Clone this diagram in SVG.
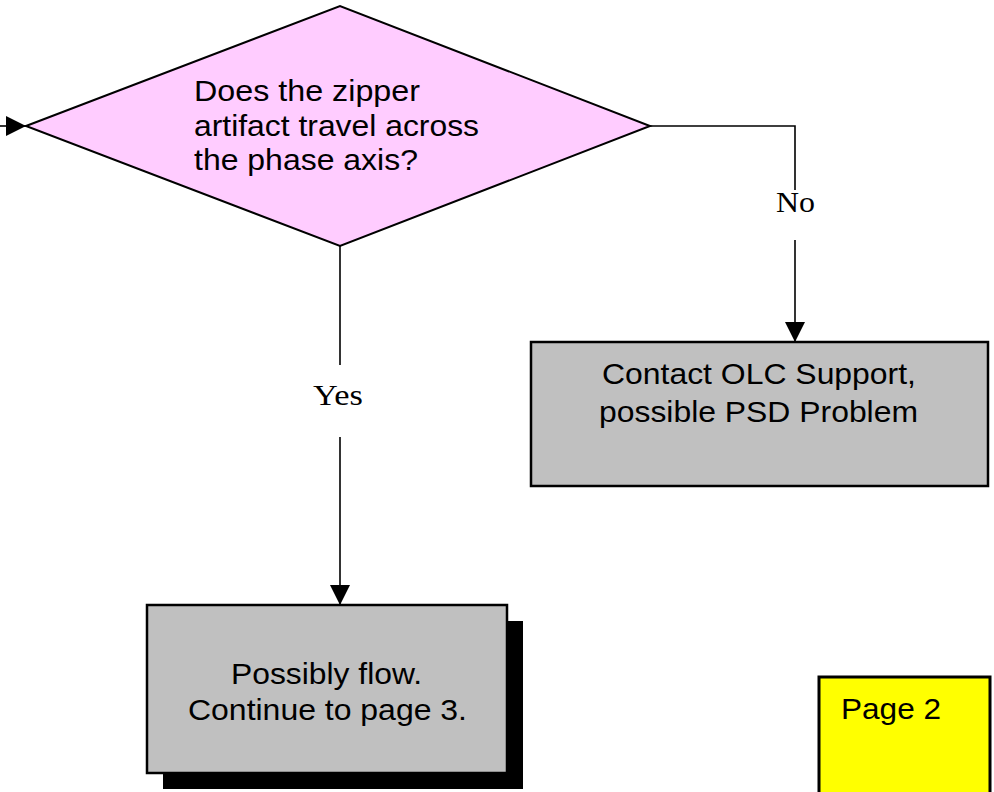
<svg xmlns="http://www.w3.org/2000/svg" width="994" height="792" viewBox="0 0 994 792">
  <defs>
    <marker id="arrow" markerWidth="20" markerHeight="20" refX="20" refY="10" orient="auto" markerUnits="userSpaceOnUse">
      <path d="M0,0 L20,10 L0,20 Z" fill="#000"/>
    </marker>
  </defs>
  <style>
    .box { fill: #c0c0c0; stroke: #000; stroke-width: 2.5; }
    .lbl { font-family: "Liberation Sans", Arial, sans-serif; font-size: 29px; fill: #000; }
    .edge { font-family: "Liberation Serif", "Times New Roman", serif; font-size: 30px; fill: #000; }
    .wire { fill: none; stroke: #000; stroke-width: 1.6; }
  </style>
  <rect width="994" height="792" fill="#fff"/>

  <g id="connectors">
    <line class="wire" x1="0" y1="126" x2="26" y2="126" marker-end="url(#arrow)"/>
    <polyline class="wire" points="650,126 795,126 795,190"/>
    <line class="wire" x1="795" y1="240" x2="795" y2="342" marker-end="url(#arrow)"/>
    <text class="edge" x="776" y="212" textLength="39" lengthAdjust="spacingAndGlyphs">No</text>
    <line class="wire" x1="340" y1="246" x2="340" y2="365"/>
    <line class="wire" x1="340" y1="437" x2="340" y2="605" marker-end="url(#arrow)"/>
    <text class="edge" x="313" y="405" textLength="50" lengthAdjust="spacingAndGlyphs">Yes</text>
  </g>

  <g id="decision">
    <polygon points="26,126 340,6 650,126 340,246" fill="#ffccff" stroke="#000" stroke-width="2"/>
    <text class="lbl" x="194" y="101" textLength="226" lengthAdjust="spacingAndGlyphs">Does the zipper</text>
    <text class="lbl" x="194" y="136" textLength="285" lengthAdjust="spacingAndGlyphs">artifact travel across</text>
    <text class="lbl" x="194" y="170" textLength="224" lengthAdjust="spacingAndGlyphs">the phase axis?</text>
  </g>

  <g id="contact-support">
    <rect class="box" x="531" y="342" width="457" height="144"/>
    <text class="lbl" x="602" y="384" textLength="314" lengthAdjust="spacingAndGlyphs">Contact OLC Support,</text>
    <text class="lbl" x="599" y="422" textLength="319" lengthAdjust="spacingAndGlyphs">possible PSD Problem</text>
  </g>

  <g id="possibly-flow">
    <rect x="163" y="621" width="360" height="168" fill="#000"/>
    <rect class="box" x="147" y="605" width="360" height="168"/>
    <text class="lbl" x="231" y="684" textLength="191" lengthAdjust="spacingAndGlyphs">Possibly flow.</text>
    <text class="lbl" x="188" y="720" textLength="279" lengthAdjust="spacingAndGlyphs">Continue to page 3.</text>
  </g>

  <g id="page-label">
    <rect x="819" y="677" width="171" height="125" fill="#ffff00" stroke="#000" stroke-width="3"/>
    <text class="lbl" x="841" y="719" textLength="100" lengthAdjust="spacingAndGlyphs">Page 2</text>
  </g>
</svg>
